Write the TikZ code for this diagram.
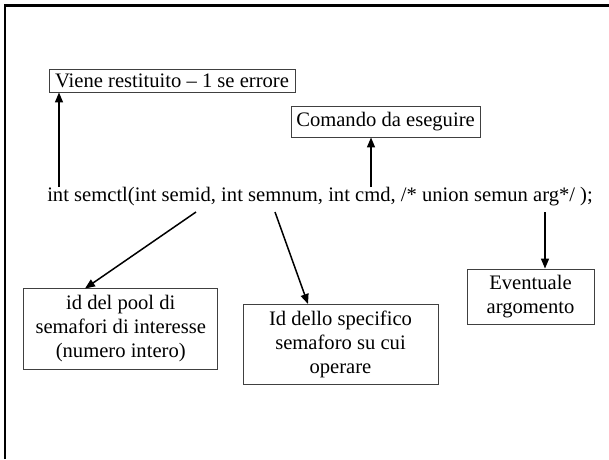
\documentclass[tikz,border=0pt]{standalone}
\usepackage{fontspec}
\setmainfont{Liberation Serif}
\usetikzlibrary{arrows.meta}
\begin{document}
\begin{tikzpicture}[x=1pt,y=-1pt,
  box/.style={draw=black!75, line width=0.9pt, inner sep=0pt, align=center, font=\fontsize{20.6}{24}\selectfont},
  arr/.style={line width=1.5pt, -{Triangle[length=10pt,width=8pt]}},
  txt/.style={inner sep=3pt, font=\fontsize{20.6}{24}\selectfont}]
\useasboundingbox (0,0) rectangle (609,459);
\fill[white] (0,0) rectangle (609,459);
\draw[line width=2.5pt] (5,459) -- (5,5.5) -- (609,5.5);
\node[box, minimum width=246pt, minimum height=23pt] (viene) at (172,80.5) {Viene restituito – 1 se errore};
\node[box, minimum width=189pt, minimum height=31pt] (cmd) at (385.5,121.5) {Comando da eseguire};
\node[txt] (main) at (320,197) {int semctl(int semid, int semnum, int cmd, /* union semun arg*/ );};
\node[box, minimum width=194pt, minimum height=81pt] (pool) at (120.75,328.5) {id del pool di\\semafori di interesse\\(numero intero)};
\node[box, minimum width=195pt, minimum height=80pt] (spec) at (340.5,344) {Id dello specifico\\semaforo su cui\\operare};
\node[box, minimum width=127pt, minimum height=55pt] (arg) at (530.5,296.5) {Eventuale\\argomento};
\coordinate (t1) at (59,187);
\coordinate (t2) at (371,187);
\coordinate (t3) at (196,212);
\coordinate (t4) at (275,212);
\coordinate (t5) at (545,212);
\draw[arr] (t1) -- (t1 |- viene.south);
\draw[arr] (t2) -- (t2 |- cmd.south);
\draw[arr] (t3) -- (85,288.5);
\draw[arr] (t4) -- (308,304);
\draw[arr] (t5) -- (t5 |- arg.north);
\end{tikzpicture}
\end{document}
